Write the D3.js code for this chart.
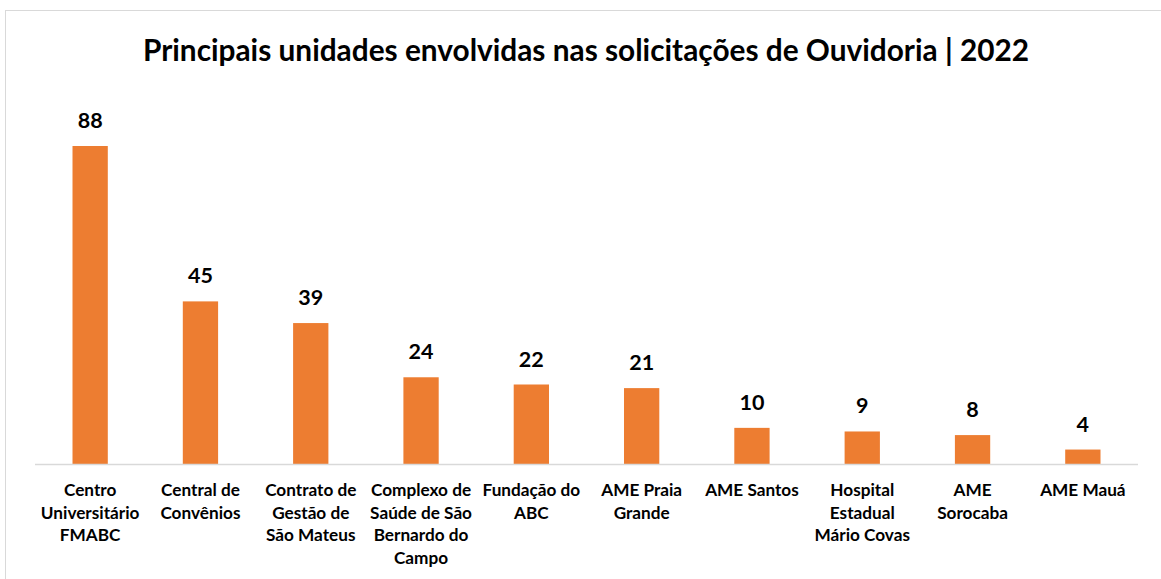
<!DOCTYPE html>
<html>
<head>
<meta charset="utf-8">
<script src="https://cdn.jsdelivr.net/npm/d3@7"></script>
<style>
  html, body { margin: 0; padding: 0; background: #fff; }
  svg { display: block; }
  text { font-family: Lato, "Open Sans", sans-serif; font-weight: bold; fill: #000; }
</style>
</head>
<body>
<svg id="chart" width="1161" height="579"></svg>
<script>
const title = "Principais unidades envolvidas nas solicitações de Ouvidoria | 2022";
const categories = [
  "Centro\nUniversitário\nFMABC",
  "Central de\nConvênios",
  "Contrato de\nGestão de\nSão Mateus",
  "Complexo de\nSaúde de São\nBernardo do\nCampo",
  "Fundação do\nABC",
  "AME Praia\nGrande",
  "AME Santos",
  "Hospital\nEstadual\nMário Covas",
  "AME\nSorocaba",
  "AME Mauá"
];
const values = [88, 45, 39, 24, 22, 21, 10, 9, 8, 4];

const svg = d3.select("#chart");
const W = 1161, H = 579;

svg.append("rect")
  .attr("x", 5.5).attr("y", 10.5)
  .attr("width", W + 10).attr("height", H + 10)
  .attr("fill", "none").attr("stroke", "#d9d9d9").attr("stroke-width", 1);

svg.append("text")
  .attr("x", 586).attr("y", 61)
  .attr("text-anchor", "middle")
  .style("font-size", "29.8px")
  .text(title);

const baseY = 464;
const x = d3.scaleBand().domain(categories).range([35, 1138]).paddingInner(0.68).paddingOuter(0.34);
const y = d3.scaleLinear().domain([0, 88]).range([baseY, 146]);

svg.append("g").selectAll("rect").data(values).join("rect")
  .attr("x", (d, i) => x(categories[i]))
  .attr("y", d => y(d))
  .attr("width", x.bandwidth())
  .attr("height", d => baseY - y(d))
  .attr("fill", "#ed7d31");

svg.append("line")
  .attr("x1", 35).attr("x2", 1138)
  .attr("y1", baseY + 0.5).attr("y2", baseY + 0.5)
  .attr("stroke", "#d9d9d9").attr("stroke-width", 1.5);

svg.append("g").selectAll("text").data(values).join("text")
  .attr("x", (d, i) => x(categories[i]) + x.bandwidth() / 2)
  .attr("y", d => y(d) - 18)
  .attr("text-anchor", "middle")
  .style("font-size", "21.5px")
  .text(d => d);

const lab = svg.append("g").selectAll("text").data(categories).join("text")
  .attr("text-anchor", "middle")
  .style("font-size", "17.2px")
  .attr("transform", d => `translate(${x(d) + x.bandwidth() / 2},${496})`);
lab.selectAll("tspan").data(d => d.split("\n")).join("tspan")
  .attr("x", 0)
  .attr("y", (d, i) => i * 22.5)
  .text(d => d);
</script>
</body>
</html>
